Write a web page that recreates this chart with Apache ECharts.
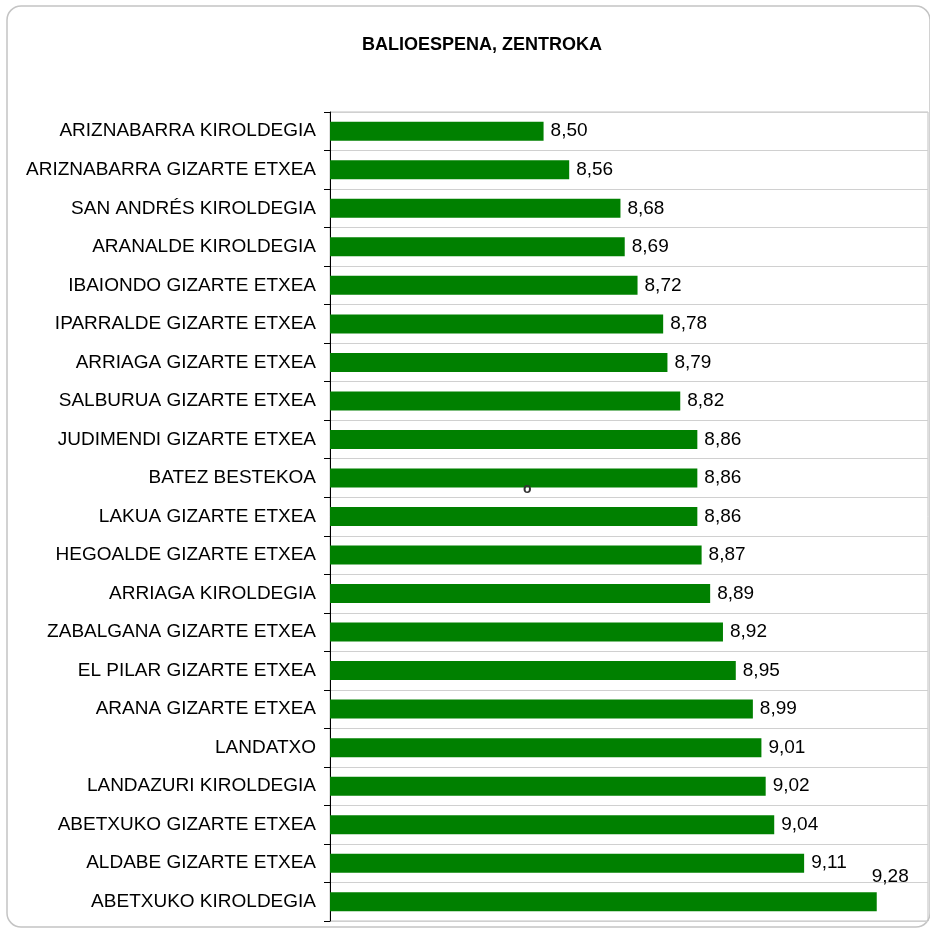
<!DOCTYPE html>
<html>
<head>
<meta charset="utf-8">
<script src="https://cdn.jsdelivr.net/npm/echarts@6/dist/echarts.min.js"></script>
<style>
html,body{margin:0;padding:0;background:#fff;}
#main{width:930px;height:930px;}
</style>
</head>
<body>
<div id="main"></div>
<script>
const categories = [
  "ARIZNABARRA KIROLDEGIA",
  "ARIZNABARRA GIZARTE ETXEA",
  "SAN ANDRÉS KIROLDEGIA",
  "ARANALDE KIROLDEGIA",
  "IBAIONDO GIZARTE ETXEA",
  "IPARRALDE GIZARTE ETXEA",
  "ARRIAGA GIZARTE ETXEA",
  "SALBURUA GIZARTE ETXEA",
  "JUDIMENDI GIZARTE ETXEA",
  "BATEZ BESTEKOA",
  "LAKUA GIZARTE ETXEA",
  "HEGOALDE GIZARTE ETXEA",
  "ARRIAGA KIROLDEGIA",
  "ZABALGANA GIZARTE ETXEA",
  "EL PILAR GIZARTE ETXEA",
  "ARANA GIZARTE ETXEA",
  "LANDATXO",
  "LANDAZURI KIROLDEGIA",
  "ABETXUKO GIZARTE ETXEA",
  "ALDABE GIZARTE ETXEA",
  "ABETXUKO KIROLDEGIA"
];
const values = [8.50, 8.56, 8.68, 8.69, 8.72, 8.78, 8.79, 8.82, 8.86, 8.86, 8.86, 8.87, 8.89, 8.92, 8.95, 8.99, 9.01, 9.02, 9.04, 9.11, 9.28];
const titleText = "BALIOESPENA, ZENTROKA";
const strayText = "o";

const font = "'Liberation Sans', Arial, sans-serif";
const lastIdx = values.length - 1;
const seriesData = values.map((v, i) => {
  if (i === lastIdx) {
    return { value: v, label: { position: 'right', offset: [-12, -25] } };
  }
  return v;
});

const chart = echarts.init(document.getElementById('main'), null, { renderer: 'canvas' });
chart.setOption({
  animation: false,
  backgroundColor: '#ffffff',
  title: {
    text: titleText,
    left: 477,
    textAlign: 'center',
    top: 31,
    textStyle: { fontFamily: font, fontSize: 18, fontWeight: 'bold', color: '#000' }
  },
  graphic: [
    {
      type: 'rect',
      shape: { x: 7, y: 6, width: 923, height: 921, r: 14 },
      style: { fill: 'none', stroke: '#c4c4c4', lineWidth: 1.5 },
      silent: true, z: -1
    },
    {
      type: 'text',
      x: 523, y: 482, zlevel: 1, z: 100,
      style: { text: strayText, fontSize: 14, fontWeight: 'bold', fontFamily: font, fill: '#333' }
    }
  ],
  grid: {
    left: 330, right: 2, top: 112, bottom: 9,
    show: true, borderColor: '#c0c0c0', borderWidth: 1,
    containLabel: false
  },
  xAxis: {
    type: 'value', min: 8, max: 9.4,
    axisLine: { show: false }, axisTick: { show: false },
    axisLabel: { show: false }, splitLine: { show: false }
  },
  yAxis: {
    type: 'category', data: categories, inverse: true,
    axisLine: { show: true, lineStyle: { color: '#000', width: 1 } },
    axisTick: { show: true, length: 6, lineStyle: { color: '#000' } },
    axisLabel: { fontFamily: font, fontSize: 19, color: '#000', margin: 14 },
    splitLine: { show: true, lineStyle: { color: '#d0d0d0', width: 1 } }
  },
  series: [{
    type: 'bar',
    data: seriesData,
    barWidth: 19,
    itemStyle: { color: '#008000' },
    label: {
      show: true, position: 'right', distance: 7,
      fontFamily: font, fontSize: 19, color: '#000',
      formatter: p => p.value.toFixed(2).replace('.', ',')
    }
  }]
});
</script>
</body>
</html>
